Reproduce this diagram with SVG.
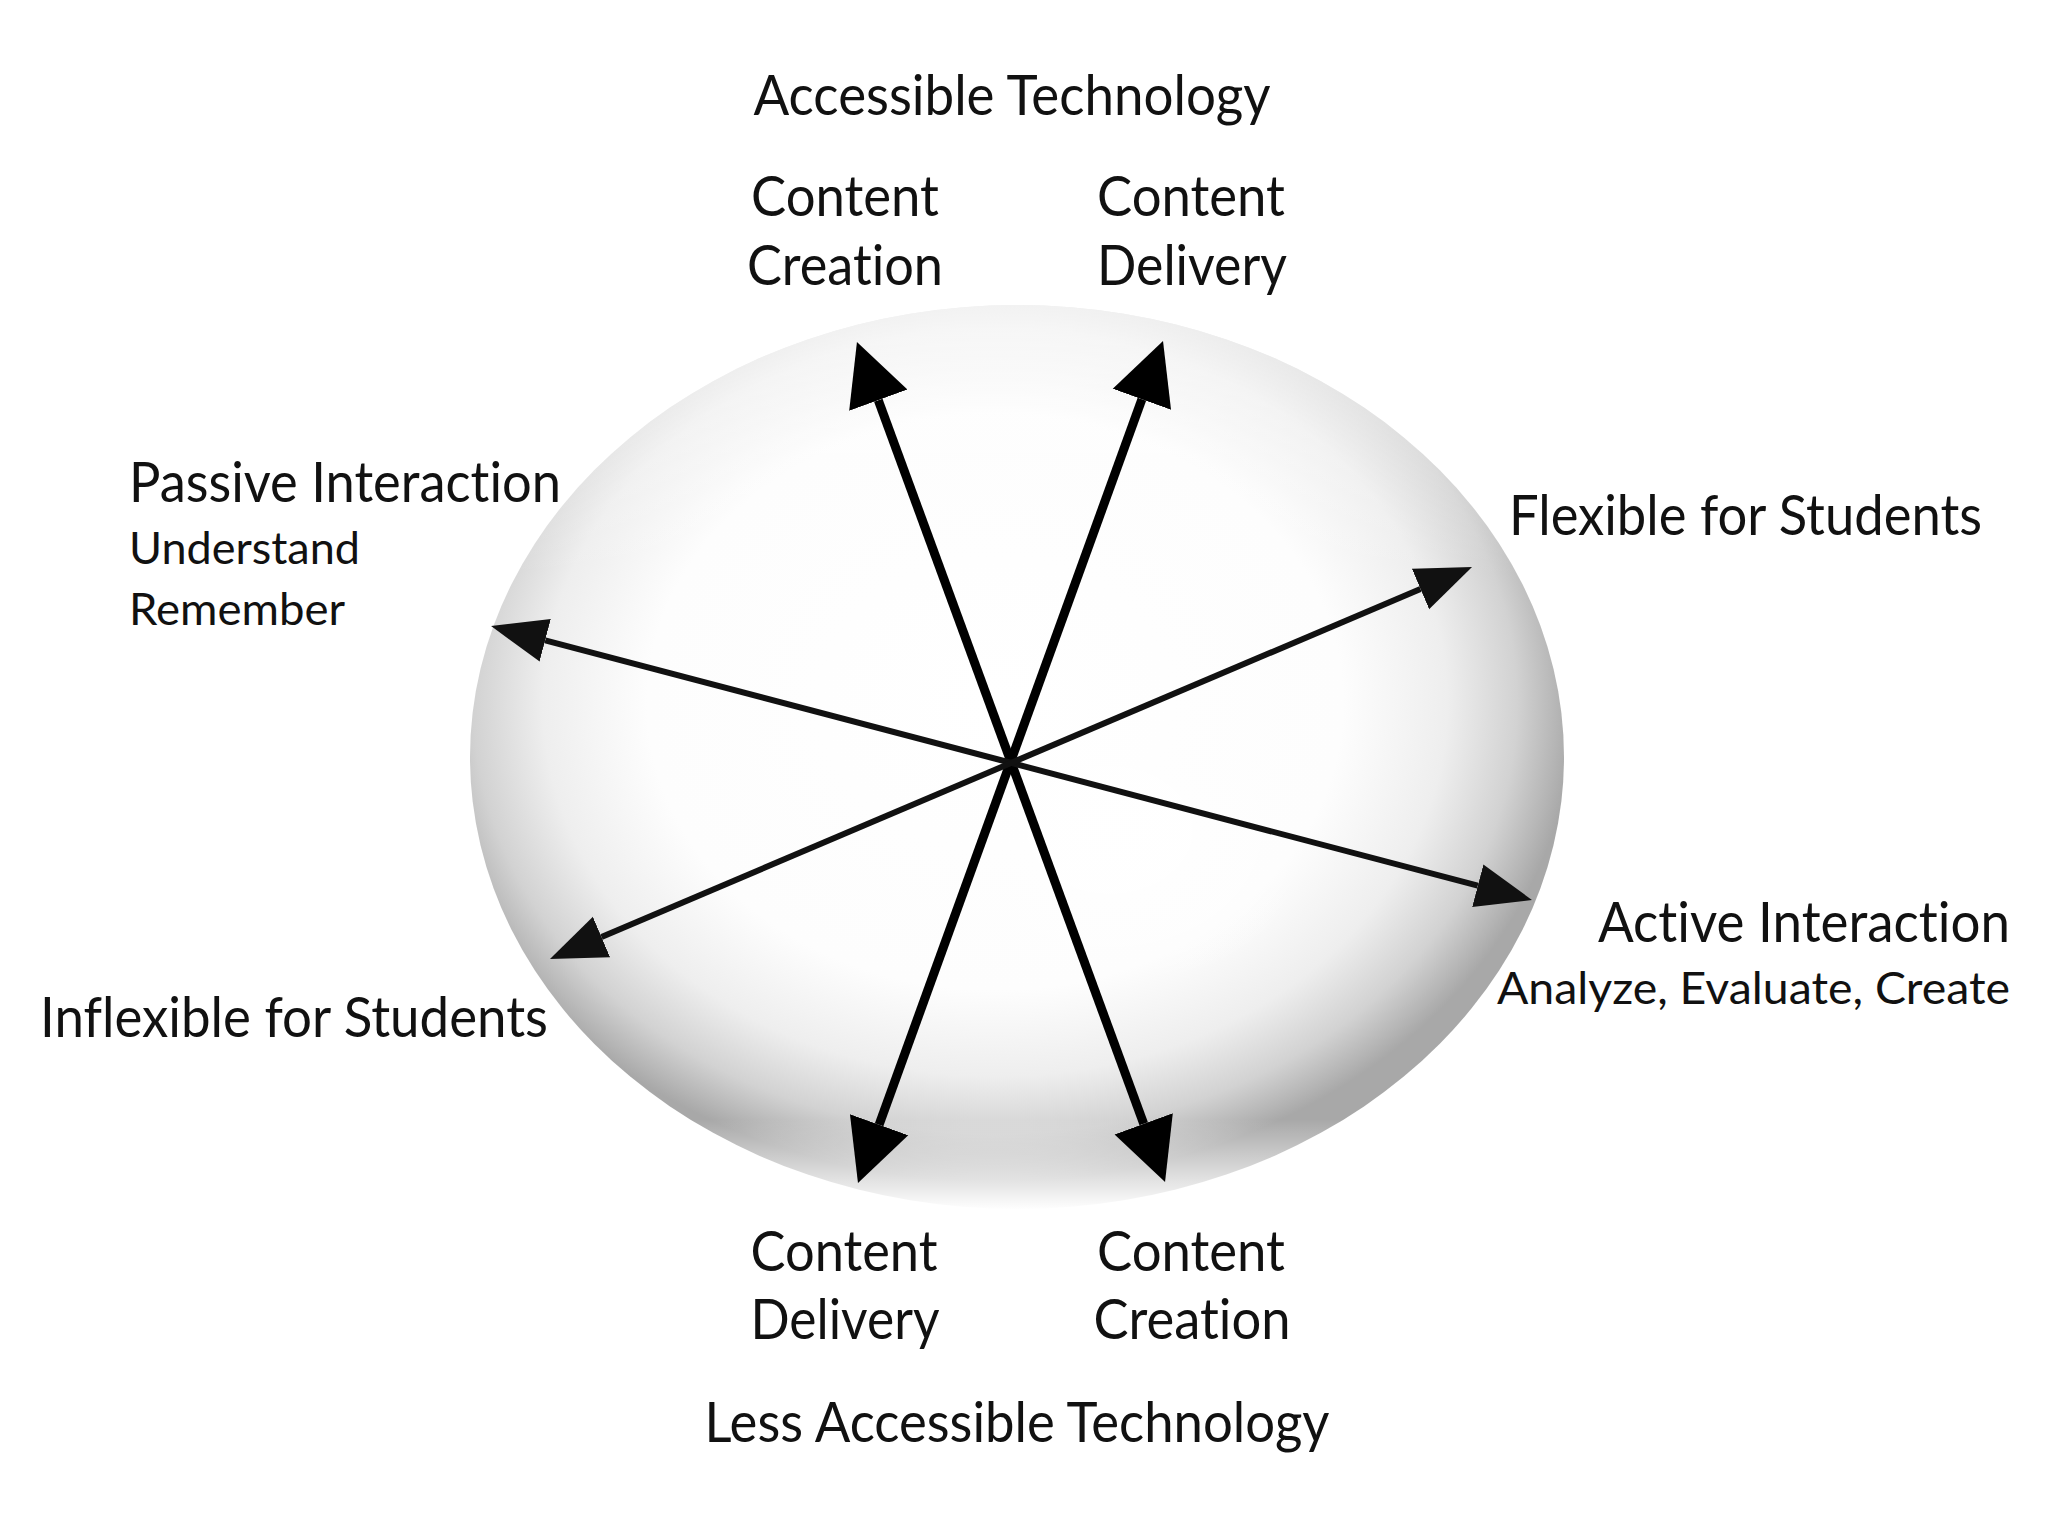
<svg xmlns="http://www.w3.org/2000/svg" width="2048" height="1536" viewBox="0 0 2048 1536">
  <style>
    .lbl { font-family: Lato, "Open Sans", "Liberation Sans", sans-serif; fill: #111111; font-variant-ligatures: none; font-feature-settings: "liga" 0, "clig" 0; }
    .big { font-size: 56px; }
    .small { font-size: 44px; }
    .mid { text-anchor: middle; }
    .end { text-anchor: end; }
    .thick { stroke: #000000; stroke-width: 9; fill: none; marker-start: url(#headThick); marker-end: url(#headThick); }
    .thin { stroke: #111111; stroke-width: 6; fill: none; marker-start: url(#headThin); marker-end: url(#headThin); }
  </style>
  <defs>
    <radialGradient id="sphereFill" cx="0.48" cy="0.44" r="0.53">
      <stop offset="0" stop-color="#ffffff"/>
      <stop offset="0.6" stop-color="#fdfdfd"/>
      <stop offset="0.78" stop-color="#eeeeee"/>
      <stop offset="0.9" stop-color="#d2d2d2"/>
      <stop offset="0.97" stop-color="#b5b5b5"/>
      <stop offset="1" stop-color="#a8a8a8"/>
    </radialGradient>
    <linearGradient id="bottomFade" x1="0" y1="0" x2="0" y2="1">
      <stop offset="0.9" stop-color="#ffffff" stop-opacity="0"/>
      <stop offset="0.96" stop-color="#ffffff" stop-opacity="0.6"/>
      <stop offset="1" stop-color="#ffffff" stop-opacity="1"/>
    </linearGradient>
    <linearGradient id="topLight" x1="0" y1="0" x2="0" y2="1">
      <stop offset="0" stop-color="#ffffff" stop-opacity="0.55"/>
      <stop offset="0.3" stop-color="#ffffff" stop-opacity="0"/>
    </linearGradient>
    <radialGradient id="innerGlow" cx="0.5" cy="0.5" r="0.5">
      <stop offset="0" stop-color="#ffffff" stop-opacity="0.8"/>
      <stop offset="1" stop-color="#ffffff" stop-opacity="0"/>
    </radialGradient>
    <marker id="headThick" markerUnits="userSpaceOnUse" markerWidth="64" markerHeight="64" refX="0" refY="32" orient="auto-start-reverse" viewBox="0 0 64 64">
      <path d="M0,1 L62,32 L0,63 Z" fill="#000000"/>
    </marker>
    <marker id="headThin" markerUnits="userSpaceOnUse" markerWidth="58" markerHeight="50" refX="0" refY="25" orient="auto-start-reverse" viewBox="0 0 58 50">
      <path d="M0,3 L56,25 L0,47 Z" fill="#111111"/>
    </marker>
  </defs>
  <rect x="0" y="0" width="2048" height="1536" fill="#ffffff"/>

  <g id="sphere">
    <ellipse cx="1017" cy="757" rx="547" ry="452" fill="url(#sphereFill)"/>
    <ellipse cx="1110" cy="830" rx="220" ry="170" fill="url(#innerGlow)"/>
    <ellipse cx="1017" cy="757" rx="547" ry="452" fill="url(#topLight)"/>
    <ellipse cx="1017" cy="757" rx="548" ry="453" fill="url(#bottomFade)"/>
  </g>

  <g id="connectors">
    <line class="thick" x1="878.3" y1="400.2" x2="1143.7" y2="1123.8"/>
    <line class="thick" x1="1141.9" y1="399.3" x2="879.1" y2="1124.7"/>
    <line class="thin" x1="545.2" y1="640.3" x2="1477.8" y2="885.7"/>
    <line class="thin" x1="601.5" y1="937.1" x2="1420.5" y2="588.9"/>
  </g>

  <g id="accessible-technology">
    <text class="lbl big mid" x="1012" y="115" textLength="517" lengthAdjust="spacingAndGlyphs">Accessible Technology</text>
  </g>
  <g id="top-content-creation">
    <text class="lbl big mid" x="845" y="216" textLength="188" lengthAdjust="spacingAndGlyphs">Content</text>
    <text class="lbl big mid" x="845" y="285" textLength="196" lengthAdjust="spacingAndGlyphs">Creation</text>
  </g>
  <g id="top-content-delivery">
    <text class="lbl big mid" x="1191" y="216" textLength="188" lengthAdjust="spacingAndGlyphs">Content</text>
    <text class="lbl big mid" x="1192" y="285" textLength="190" lengthAdjust="spacingAndGlyphs">Delivery</text>
  </g>
  <g id="passive-interaction">
    <text class="lbl big" x="129" y="502" textLength="432" lengthAdjust="spacingAndGlyphs">Passive Interaction</text>
    <text class="lbl small" x="129" y="564" textLength="231" lengthAdjust="spacingAndGlyphs">Understand</text>
    <text class="lbl small" x="129" y="625" textLength="216" lengthAdjust="spacingAndGlyphs">Remember</text>
  </g>
  <g id="flexible-for-students">
    <text class="lbl big" x="1509" y="535" textLength="473" lengthAdjust="spacingAndGlyphs">Flexible for Students</text>
  </g>
  <g id="inflexible-for-students">
    <text class="lbl big" x="40" y="1037" textLength="508" lengthAdjust="spacingAndGlyphs">Inflexible for Students</text>
  </g>
  <g id="active-interaction">
    <text class="lbl big end" x="2010" y="942" textLength="412" lengthAdjust="spacingAndGlyphs">Active Interaction</text>
    <text class="lbl small end" x="2010" y="1004" textLength="513" lengthAdjust="spacingAndGlyphs">Analyze, Evaluate, Create</text>
  </g>
  <g id="bottom-content-delivery">
    <text class="lbl big mid" x="844" y="1271" textLength="187" lengthAdjust="spacingAndGlyphs">Content</text>
    <text class="lbl big mid" x="845" y="1339" textLength="189" lengthAdjust="spacingAndGlyphs">Delivery</text>
  </g>
  <g id="bottom-content-creation">
    <text class="lbl big mid" x="1191" y="1271" textLength="188" lengthAdjust="spacingAndGlyphs">Content</text>
    <text class="lbl big mid" x="1192" y="1339" textLength="197" lengthAdjust="spacingAndGlyphs">Creation</text>
  </g>
  <g id="less-accessible-technology">
    <text class="lbl big mid" x="1017" y="1442" textLength="625" lengthAdjust="spacingAndGlyphs">Less Accessible Technology</text>
  </g>
</svg>
